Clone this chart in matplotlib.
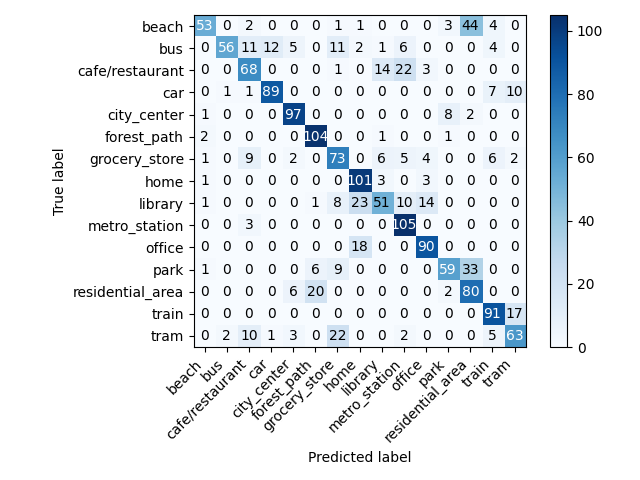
import numpy as np
import matplotlib
matplotlib.use("Agg")
import matplotlib.pyplot as plt

classes = ["beach", "bus", "cafe/restaurant", "car", "city_center", "forest_path",
           "grocery_store", "home", "library", "metro_station", "office", "park",
           "residential_area", "train", "tram"]

row_beach = [53, 0, 2, 0, 0, 0, 1, 1, 0, 0, 0, 3, 44, 4, 0]
row_bus = [0, 56, 11, 12, 5, 0, 11, 2, 1, 6, 0, 0, 0, 4, 0]
row_cafe = [0, 0, 68, 0, 0, 0, 1, 0, 14, 22, 3, 0, 0, 0, 0]
row_car = [0, 1, 1, 89, 0, 0, 0, 0, 0, 0, 0, 0, 0, 7, 10]
row_city = [1, 0, 0, 0, 97, 0, 0, 0, 0, 0, 0, 8, 2, 0, 0]
row_forest = [2, 0, 0, 0, 0, 104, 0, 0, 1, 0, 0, 1, 0, 0, 0]
row_grocery = [1, 0, 9, 0, 2, 0, 73, 0, 6, 5, 4, 0, 0, 6, 2]
row_home = [1, 0, 0, 0, 0, 0, 0, 101, 3, 0, 3, 0, 0, 0, 0]
row_library = [1, 0, 0, 0, 0, 1, 8, 23, 51, 10, 14, 0, 0, 0, 0]
row_metro = [0, 0, 3, 0, 0, 0, 0, 0, 0, 105, 0, 0, 0, 0, 0]
row_office = [0, 0, 0, 0, 0, 0, 0, 18, 0, 0, 90, 0, 0, 0, 0]
row_park = [1, 0, 0, 0, 0, 6, 9, 0, 0, 0, 0, 59, 33, 0, 0]
row_resid = [0, 0, 0, 0, 6, 20, 0, 0, 0, 0, 0, 2, 80, 0, 0]
row_train = [0, 0, 0, 0, 0, 0, 0, 0, 0, 0, 0, 0, 0, 91, 17]
row_tram = [0, 2, 10, 1, 3, 0, 22, 0, 0, 2, 0, 0, 0, 5, 63]

cm = np.array([row_beach, row_bus, row_cafe, row_car, row_city, row_forest,
               row_grocery, row_home, row_library, row_metro, row_office,
               row_park, row_resid, row_train, row_tram])

fig = plt.figure(figsize=(6.4, 4.8), dpi=100)
plt.imshow(cm, interpolation="nearest", cmap=plt.cm.Blues)
plt.colorbar()
ticks = np.arange(len(classes))
plt.xticks(ticks, classes, rotation=45, ha="right")
plt.yticks(ticks, classes)
thresh = cm.max() / 2.0
for i in range(cm.shape[0]):
    for j in range(cm.shape[1]):
        plt.text(j, i, format(cm[i, j], "d"), ha="center", va="center",
                 color="white" if cm[i, j] > thresh else "black")
plt.ylabel("True label")
plt.xlabel("Predicted label")
plt.tight_layout()
plt.savefig("out.png", dpi=100)
